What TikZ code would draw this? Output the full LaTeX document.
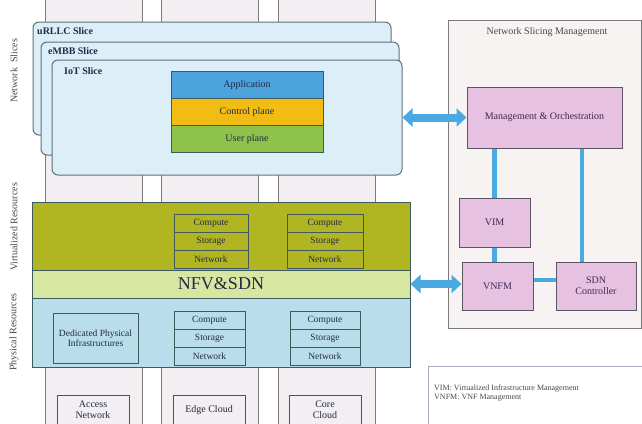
\documentclass[tikz,border=0pt]{standalone}
\usepackage{fontspec}
\setmainfont{Liberation Serif}
\usetikzlibrary{arrows.meta}

\definecolor{colfill}{HTML}{F2EEF1}
\definecolor{colline}{HTML}{7C7C7C}
\definecolor{slicefill}{HTML}{DCEEF7}
\definecolor{sliceline}{HTML}{5F7276}
\definecolor{appblue}{HTML}{4DA3DC}
\definecolor{ctrlyellow}{HTML}{F1BD14}
\definecolor{usergreen}{HTML}{8EC24B}
\definecolor{virtolive}{HTML}{B1B522}
\definecolor{nfvgreen}{HTML}{D7E6A1}
\definecolor{physblue}{HTML}{BADDEC}
\definecolor{cellline}{HTML}{3F5A5C}
\definecolor{mgmtpink}{HTML}{E6C1E2}
\definecolor{mgmtline}{HTML}{5A5560}
\definecolor{mgmttext}{HTML}{402852}
\definecolor{nsmfill}{HTML}{F8F3F3}
\definecolor{linkblue}{HTML}{4AA9E0}
\definecolor{txtdark}{HTML}{232A45}
\definecolor{txtgrey}{HTML}{454545}
\definecolor{legendline}{HTML}{A9AABB}

\begin{document}
\begin{tikzpicture}[x=1pt, y=-1pt,
    every node/.style={inner sep=0pt, text=txtdark, font=\fontsize{10}{11}\selectfont},
    column/.style={draw=colline, fill=colfill, line width=0.9pt, minimum width=97pt, minimum height=440pt},
    slice/.style={draw=sliceline, fill=slicefill, line width=1pt, rounded corners=6pt},
    slicetitle/.style={anchor=west, font=\fontsize{10}{11}\selectfont\bfseries},
    plane/.style={draw=cellline, line width=1pt, minimum width=152pt, minimum height=26.7pt},
    layer/.style={draw=cellline, line width=1pt, minimum width=378pt},
    cell/.style={draw=cellline, line width=1pt, minimum height=18pt, font=\fontsize{9.5}{10}\selectfont},
    site/.style={draw=cellline, fill=colfill, line width=1pt, minimum width=72pt, minimum height=30pt, align=center},
    sidelabel/.style={rotate=90, text=txtgrey},
    mbox/.style={draw=mgmtline, fill=mgmtpink, line width=1pt, text=mgmttext, align=center},
    link/.style={draw=linkblue, line width=4.5pt},
    dblarrow/.style={draw=linkblue, line width=8pt, {Triangle[length=10pt,width=18pt]}-{Triangle[length=10pt,width=18pt]}}]

\useasboundingbox (0,0) rectangle (642,423);

% columns
\node[column] (accesscol) at (93.5,211.5) {};
\node[column] (edgecol) at (209.5,211.5) {};
\node[column] (corecol) at (326.5,211.5) {};

% network slices
\node[slice, minimum width=358pt, minimum height=113pt] (urllc) at (212,78.5) {};
\node[slicetitle] (urllctitle) at (37,31) {uRLLC Slice};
\node[slice, minimum width=358pt, minimum height=113pt] (embb) at (220,98.5) {};
\node[slicetitle] (embbtitle) at (48,51) {eMBB Slice};
\node[slice, minimum width=350pt, minimum height=115pt] (iot) at (227,117.5) {};
\node[slicetitle] (iottitle) at (64,71) {IoT Slice};

\node[plane, fill=appblue] (app) at (247,85.3) {Application};
\node[plane, fill=ctrlyellow] (ctrl) at (247,112) {Control plane};
\node[plane, fill=usergreen] (user) at (247,138.7) {User plane};

% resources
\node[layer, fill=virtolive, minimum height=68pt] (virt) at (221,236) {};
\node[layer, fill=nfvgreen, minimum height=28pt, font=\fontsize{18}{19}\selectfont] (nfv) at (221,284) {NFV\&SDN};
\node[layer, fill=physblue, minimum height=69pt] (phys) at (221,332.5) {};

\node[cell, minimum width=74pt] (vcompA) at (211,223) {Compute};
\node[cell, minimum width=74pt] (vstoreA) at (211,241) {Storage};
\node[cell, minimum width=74pt] (vnetA) at (211,259) {Network};
\node[cell, minimum width=76pt] (vcompB) at (325,223) {Compute};
\node[cell, minimum width=76pt] (vstoreB) at (325,241) {Storage};
\node[cell, minimum width=76pt] (vnetB) at (325,259) {Network};

\node[cell, minimum width=85pt, minimum height=50pt, align=center] (dedicated) at (95.5,338) {Dedicated Physical\\Infrastructures};
\node[cell, minimum width=71pt] (pcompA) at (209.5,320) {Compute};
\node[cell, minimum width=71pt] (pstoreA) at (209.5,338) {Storage};
\node[cell, minimum width=71pt] (pnetA) at (209.5,356) {Network};
\node[cell, minimum width=70pt] (pcompB) at (325,320) {Compute};
\node[cell, minimum width=70pt] (pstoreB) at (325,338) {Storage};
\node[cell, minimum width=70pt] (pnetB) at (325,356) {Network};

\node[site] (access) at (93,410) {Access\\Network};
\node[site] (edge) at (209,410) {Edge Cloud};
\node[site] (core) at (325,410) {Core\\Cloud};

\node[sidelabel] (sliceslabel) at (14,71) {Network\ \ Slices};
\node[sidelabel] (virtlabel) at (14,227) {Virtualized Resources};
\node[sidelabel] (physlabel) at (14,332) {Physical Resources};

% network slicing management
\node[draw=colline, fill=nsmfill, line width=1pt, minimum width=193pt, minimum height=308pt] (nsm) at (544.5,174) {};
\node[text=txtgrey] (nsmtitle) at (547,32) {Network Slicing Management};
\node[mbox, minimum width=155pt, minimum height=61pt] (mano) at (544.5,117.5) {Management \& Orchestration};
\node[mbox, minimum width=71pt, minimum height=49pt] (vim) at (494.5,222.5) {VIM};
\node[mbox, minimum width=71pt, minimum height=48pt] (vnfm) at (497.5,286) {VNFM};
\node[mbox, minimum width=80pt, minimum height=48pt] (sdn) at (596,286) {SDN\\Controller};

\draw[link] (vim.north) -- (vim.north |- mano.south);
\draw[link] (vim.south) -- (vim.south |- vnfm.north);
\draw[link] ([xshift=-14pt]sdn.north) -- ([xshift=-14pt]sdn.north |- mano.south);
\draw[link] ([yshift=6pt]vnfm.east) -- ([yshift=6pt]vnfm.east -| sdn.west);

\draw[dblarrow] (iot.east) -- (mano.west);
\draw[dblarrow] (nfv.east) -- (nfv.east -| vnfm.west);

% legend
\node[draw=legendline, line width=1pt, minimum width=217pt, minimum height=64pt] (legend) at (536.5,398) {};
\node[anchor=west, align=left, text=txtgrey, font=\fontsize{8}{8.5}\selectfont] (legendtext) at (434,393) {VIM: Virtualized Infrastructure Management\\VNFM: VNF Management};
\end{tikzpicture}
\end{document}
